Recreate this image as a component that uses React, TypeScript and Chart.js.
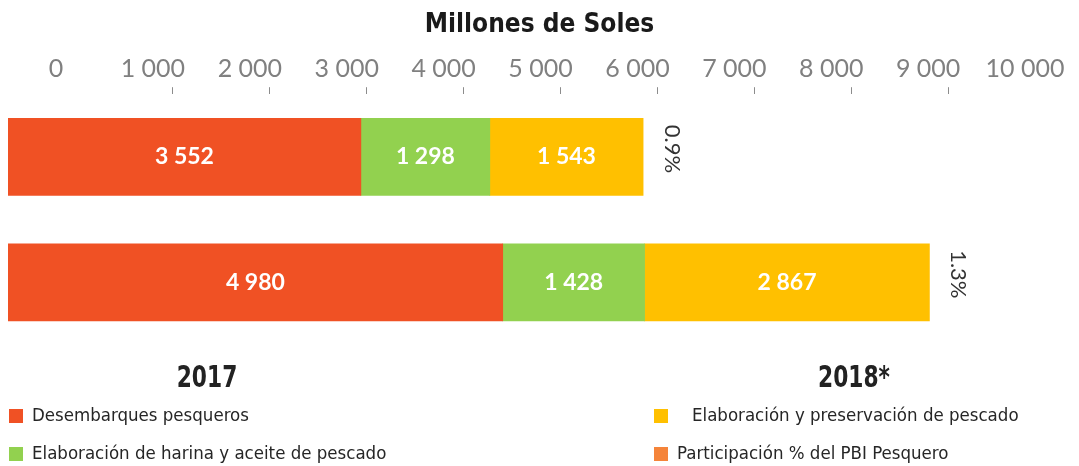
import React, { useEffect, useRef } from 'react';
import { Chart, registerables } from 'chart.js';

Chart.register(...registerables);

// ---------- data ----------
const years = ['2017', '2018*'];
const seriesNames = [
  'Desembarques pesqueros',
  'Elaboración de harina y aceite de pescado',
  'Elaboración y preservación de pescado',
];
const desembarques = [3552, 4980];
const harinaAceite = [1298, 1428];
const preservacion = [1543, 2867];
const participacion = [0.9, 1.3];
const participacionName = 'Participación % del PBI Pesquero';
const axisTickValues = [0, 1000, 2000, 3000, 4000, 5000, 6000, 7000, 8000, 9000, 10000];
const axisTitle = 'Millones de Soles';

// ---------- styles ----------
const COLORS = ['#F05124', '#92D14F', '#FFC000'];
const PART_COLOR = '#F5843A';

const fmt = (n: number) => String(n).replace(/\B(?=(\d{3})+(?!\d))/g, ' ');

const overlayPlugin = {
  id: 'overlay',
  afterDatasetsDraw(chart: any) {
    const ctx = chart.ctx as CanvasRenderingContext2D;
    ctx.save();
    // values inside bars
    chart.data.datasets.forEach((ds: any, di: number) => {
      const meta = chart.getDatasetMeta(di);
      meta.data.forEach((el: any, i: number) => {
        const { x, y, base } = el.getProps(['x', 'y', 'base'], true);
        ctx.fillStyle = '#FFFFFF';
        ctx.font = 'bold 23px Lato';
        ctx.textAlign = 'center';
        ctx.textBaseline = 'middle';
        ctx.fillText(fmt(ds.data[i]), (x + base) / 2, y);
      });
    });
    // participation % (rotated) after each bar
    const lastMeta = chart.getDatasetMeta(chart.data.datasets.length - 1);
    lastMeta.data.forEach((el: any, i: number) => {
      ctx.save();
      ctx.translate(el.x + 29, el.y - 8);
      ctx.rotate(Math.PI / 2);
      ctx.font = '22px Lato';
      ctx.fillStyle = '#333333';
      ctx.textAlign = 'center';
      ctx.textBaseline = 'middle';
      ctx.fillText(participacion[i].toFixed(1) + '%', 0, 0);
      ctx.restore();
    });
    // year labels
    const yearPos = [
      [207, 379],
      [854, 379],
    ];
    chart.data.labels.forEach((lab: string, i: number) => {
      ctx.save();
      ctx.translate(yearPos[i][0], yearPos[i][1]);
      ctx.scale(0.78, 1);
      ctx.font = 'bold 31px "DejaVu Sans Condensed", "DejaVu Sans"';
      ctx.fillStyle = '#222222';
      ctx.textAlign = 'center';
      ctx.textBaseline = 'middle';
      ctx.fillText(lab, 0, 0);
      ctx.restore();
    });
    // legend
    const items = [
      { color: chart.data.datasets[0].backgroundColor, label: chart.data.datasets[0].label, sx: 9, sy: 409, tx: 32 },
      { color: chart.data.datasets[1].backgroundColor, label: chart.data.datasets[1].label, sx: 9, sy: 447, tx: 32 },
      { color: chart.data.datasets[2].backgroundColor, label: chart.data.datasets[2].label, sx: 654, sy: 409, tx: 692 },
      { color: PART_COLOR, label: participacionName, sx: 654, sy: 447, tx: 677 },
    ];
    items.forEach((it) => {
      ctx.fillStyle = it.color;
      ctx.fillRect(it.sx, it.sy, 14, 14);
      ctx.font = '18.5px "DejaVu Sans Condensed", "DejaVu Sans"';
      ctx.fillStyle = '#262626';
      ctx.textAlign = 'left';
      ctx.textBaseline = 'middle';
      ctx.fillText(it.label, it.tx, it.sy + 7.5);
    });
    ctx.restore();
  },
};

export default function App() {
  const canvasRef = useRef<HTMLCanvasElement | null>(null);

  useEffect(() => {
    document.body.style.margin = '0';
    const canvas = canvasRef.current;
    if (!canvas) return;
    const chart = new Chart(canvas, {
      type: 'bar',
      data: {
        labels: years,
        datasets: [
          { label: seriesNames[0], data: desembarques, backgroundColor: COLORS[0], xAxisID: 'x', yAxisID: 'y' },
          { label: seriesNames[1], data: harinaAceite, backgroundColor: COLORS[1], xAxisID: 'x', yAxisID: 'y' },
          { label: seriesNames[2], data: preservacion, backgroundColor: COLORS[2], xAxisID: 'x', yAxisID: 'y' },
        ],
      },
      options: {
        indexAxis: 'y',
        animation: false,
        responsive: false,
        maintainAspectRatio: false,
        datasets: { bar: { barThickness: 77, borderWidth: 0 } },
        layout: { padding: { left: 8, right: 8, top: 10, bottom: 121 } },
        plugins: {
          legend: { display: false },
          tooltip: { enabled: false },
        },
        scales: {
          x: { type: 'linear', display: false, stacked: true, min: 0, max: 10700 },
          x2: {
            type: 'linear',
            position: 'top',
            min: -702,
            max: 10268,
            afterBuildTicks: (scale: any) => {
              scale.ticks = axisTickValues.map((v) => ({ value: v }));
            },
            afterFit: (scale: any) => {
              scale.paddingLeft = 0;
              scale.paddingRight = 0;
            },
            border: { display: false },
            grid: {
              drawOnChartArea: false,
              drawTicks: true,
              tickLength: 7,
              lineWidth: 1,
              color: (c: any) =>
                c.tick && (c.tick.value === axisTickValues[0] || c.tick.value === axisTickValues[axisTickValues.length - 1])
                  ? 'rgba(0,0,0,0)'
                  : '#8C8C8C',
            },
            ticks: {
              autoSkip: false,
              maxRotation: 0,
              minRotation: 0,
              padding: 3,
              labelOffset: -20,
              color: '#808080',
              font: { family: 'Lato', size: 25 },
              callback: (v: any) => fmt(Number(v)),
            },
            title: {
              display: true,
              text: axisTitle,
              color: '#1A1A1A',
              font: { family: '"DejaVu Sans Condensed", "DejaVu Sans"', size: 26, weight: 'bold' },
              padding: { top: 0, bottom: 10 },
            },
          },
          y: { type: 'category', display: false, stacked: true },
        },
      },
      plugins: [overlayPlugin],
    } as any);
    return () => chart.destroy();
  }, []);

  return (
    <div style={{ width: 1079, height: 466, background: '#fff' }}>
      <canvas ref={canvasRef} width={1079} height={466} style={{ display: 'block' }} />
    </div>
  );
}
